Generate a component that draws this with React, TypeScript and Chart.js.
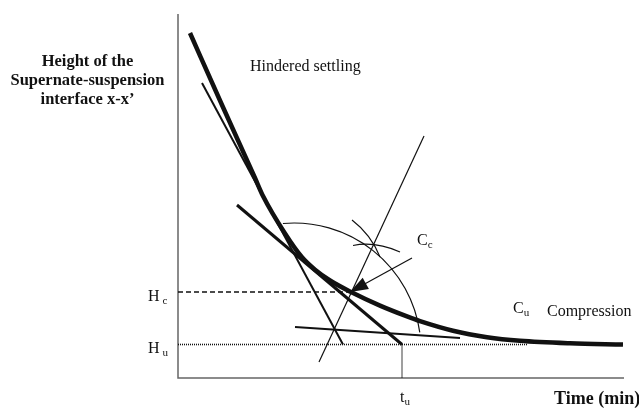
import React, { useEffect, useRef } from "react";
import { Chart, registerables } from "chart.js";

Chart.register(...registerables);

// Settling curve (time vs interface height), arbitrary units
const curveTime = [1.2, 4.4, 7.7, 8.5, 10.7, 12.4, 13.7, 15.2, 17.3, 20.2, 22.9, 24.2, 27.5, 30.9, 34.2, 39.2, 44.5];
const curveHeight = [34.5, 27.3, 20.0, 18.2, 14.45, 12.07, 10.83, 9.75, 8.6, 7.24, 6.16, 5.69, 4.73, 4.08, 3.72, 3.47, 3.35];

// Construction lines [time, height]
const hinderedTangent = [[2.4, 29.5], [16.5, 3.35]];
const criticalTangent = [[5.9, 17.3], [22.4, 3.35]];
const compressionTangent = [[11.7, 5.1], [28.2, 4.0]];
const bisector = [[14.1, 1.6], [24.6, 24.2]];

// Reference levels
const Hc = 8.6;
const Hu = 3.35;
const tu = 22.4;
const hcLineEnd = 17.2;
const huLineEnd = 35;

// Arrow to C_c
const arrowFrom = [23.4, 12.0];
const arrowTo = [17.2, 8.6];

// Arcs: big arc [centerX, centerY, radius, startDeg, endDeg]
const bigArc = [11.6, 2.8, 12.7, -95, -8];
// small bisecting arcs: [start, control, end]
const smallArcs = [
  [[17.4, 15.8], [19.3, 14.35], [20.2, 12.1]],
  [[17.5, 13.25], [19.7, 13.7], [22.2, 12.6]],
];

// Texts
const plainLabels = [
  { text: "Hindered settling", x: 7.2, y: 31.1 },
  { text: "Compression", x: 36.9, y: 6.6 },
];
const subLabels = [
  { main: "C", sub: "c", x: 23.9, y: 13.7, gap: 0 },
  { main: "C", sub: "u", x: 33.5, y: 6.9, gap: 0 },
  { main: "H", sub: "c", x: -3.0, y: 8.1, gap: 3 },
  { main: "H", sub: "u", x: -3.0, y: 2.9, gap: 3 },
  { main: "t", sub: "u", x: 22.2, y: -2.0, gap: 0 },
];
const yTitleLines = ["Height of the", "Supernate-suspension", "interface x-x’"];
const yTitleAnchor = [-9.05, 31.6];
const xTitle = { text: "Time (min)", x: 37.6, y: -2.1 };

const pts = (arr: number[][]) => arr.map(([x, y]) => ({ x, y }));

const INK = "#111";

const decorPlugin = {
  id: "decor",
  beforeDatasetsDraw(chart: any) {
    const { ctx, chartArea } = chart;
    ctx.save();
    ctx.strokeStyle = "#666";
    ctx.lineWidth = 1.5;
    ctx.beginPath();
    ctx.moveTo(chartArea.left, chartArea.top);
    ctx.lineTo(chartArea.left, chartArea.bottom);
    ctx.lineTo(chartArea.right - 4, chartArea.bottom);
    ctx.stroke();
    ctx.restore();
  },
  afterDraw(chart: any) {
    const { ctx } = chart;
    const xs = chart.scales.x;
    const ys = chart.scales.y;
    const P = (x: number, y: number) => [xs.getPixelForValue(x), ys.getPixelForValue(y)];
    ctx.save();
    ctx.strokeStyle = INK;
    ctx.fillStyle = INK;

    // big arc
    const [cx, cy] = P(bigArc[0], bigArc[1]);
    const r = xs.getPixelForValue(bigArc[0] + bigArc[2]) - cx;
    ctx.lineWidth = 1.2;
    ctx.beginPath();
    ctx.arc(cx, cy, r, (bigArc[3] * Math.PI) / 180, (bigArc[4] * Math.PI) / 180, false);
    ctx.stroke();

    // small arcs
    smallArcs.forEach(([s, c, e]) => {
      const [sx, sy] = P(s[0], s[1]);
      const [qx, qy] = P(c[0], c[1]);
      const [ex, ey] = P(e[0], e[1]);
      ctx.beginPath();
      ctx.moveTo(sx, sy);
      ctx.quadraticCurveTo(qx, qy, ex, ey);
      ctx.stroke();
    });

    // arrow head
    const [ax, ay] = P(arrowFrom[0], arrowFrom[1]);
    const [bx, by] = P(arrowTo[0], arrowTo[1]);
    const len = Math.hypot(bx - ax, by - ay);
    const ux = (bx - ax) / len;
    const uy = (by - ay) / len;
    const hl = 18;
    const hw = 6.5;
    ctx.beginPath();
    ctx.moveTo(bx, by);
    ctx.lineTo(bx - ux * hl - uy * hw, by - uy * hl + ux * hw);
    ctx.lineTo(bx - ux * hl + uy * hw, by - uy * hl - ux * hw);
    ctx.closePath();
    ctx.fill();

    // texts
    ctx.textBaseline = "middle";
    ctx.textAlign = "left";
    ctx.font = '16px "Liberation Serif"';
    plainLabels.forEach((l) => {
      const [x, y] = P(l.x, l.y);
      ctx.fillText(l.text, x, y);
    });
    subLabels.forEach((l) => {
      const [x, y] = P(l.x, l.y);
      ctx.font = '16px "Liberation Serif"';
      ctx.fillText(l.main, x, y);
      const w = ctx.measureText(l.main).width;
      ctx.font = '11px "Liberation Serif"';
      ctx.fillText(l.sub, x + w + l.gap, y + 4);
    });
    ctx.font = 'bold 16.5px "Liberation Serif"';
    ctx.textAlign = "center";
    const [tx, ty] = P(yTitleAnchor[0], yTitleAnchor[1]);
    yTitleLines.forEach((line, i) => {
      ctx.fillText(line, tx, ty + i * 19);
    });
    ctx.textAlign = "left";
    ctx.font = 'bold 18px "Liberation Serif"';
    const [gx, gy] = P(xTitle.x, xTitle.y);
    ctx.fillText(xTitle.text, gx, gy);
    ctx.restore();
  },
};

const lineDs = (data: any[], width: number, extra: any = {}) => ({
  data,
  borderColor: INK,
  borderWidth: width,
  pointRadius: 0,
  fill: false,
  tension: 0,
  clip: false,
  ...extra,
});

export default function App() {
  const ref = useRef<HTMLCanvasElement>(null);
  useEffect(() => {
    if (!ref.current) return;
    const chart = new Chart(ref.current, {
      type: "line",
      data: {
        datasets: [
          lineDs(
            curveTime.map((t, i) => ({ x: t, y: curveHeight[i] })),
            4.5,
            { cubicInterpolationMode: "monotone", borderCapStyle: "butt" }
          ),
          lineDs(pts(hinderedTangent), 2),
          lineDs(pts(criticalTangent), 3),
          lineDs(pts(compressionTangent), 2),
          lineDs(pts(bisector), 1.2),
          lineDs(pts([arrowFrom, arrowTo]), 1.2),
          lineDs(pts([[0, Hc], [hcLineEnd, Hc]]), 1.5, { borderDash: [5, 3] }),
          lineDs(pts([[0, Hu], [huLineEnd, Hu]]), 1.6, { borderDash: [1, 1] }),
          lineDs(pts([[tu, Hu], [tu, 0]]), 1.6, { borderDash: [1, 1] }),
        ],
      },
      options: {
        animation: false,
        responsive: false,
        devicePixelRatio: 1,
        layout: { padding: { left: 178, top: 14, right: 11, bottom: 30 } },
        plugins: { legend: { display: false }, tooltip: { enabled: false } },
        events: [],
        scales: {
          x: { type: "linear", min: 0, max: 45, display: false },
          y: { type: "linear", min: 0, max: 36.4, display: false },
        },
      },
      plugins: [decorPlugin],
    });
    return () => chart.destroy();
  }, []);
  return (
    <div style={{ position: "absolute", left: 0, top: 0, width: 639, height: 408, background: "#fff" }}>
      <canvas ref={ref} width={639} height={408} />
    </div>
  );
}
